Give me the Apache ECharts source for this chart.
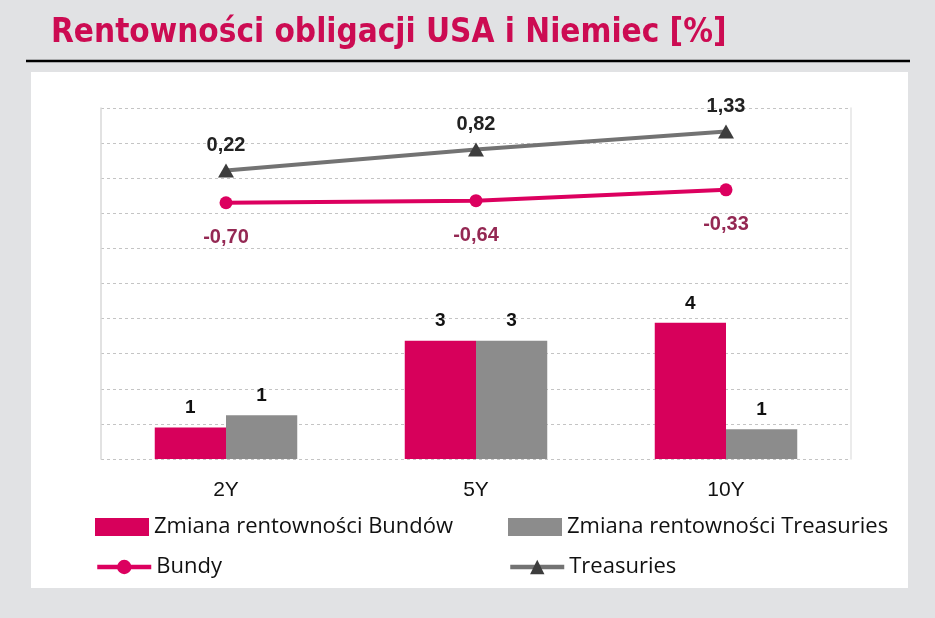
<!DOCTYPE html>
<html>
<head>
<meta charset="utf-8">
<script src="https://cdn.jsdelivr.net/npm/echarts@6/dist/echarts.min.js"></script>
<style>html,body{margin:0;padding:0;background:#e1e2e4}#c{width:935px;height:618px}</style>
</head>
<body>
<div id="c"></div>
<script>
const categories = ['2Y', '5Y', '10Y'];
const bundChange = [0.9, 3.37, 3.88];
const treasChange = [1.25, 3.37, 0.85];
const bundy = [-0.70, -0.64, -0.33];
const treasuries = [0.22, 0.82, 1.33];

const chart = echarts.init(document.getElementById('c'));
const fmt2 = p => p.value.toFixed(2).replace('.', ',');
const legendText = { fontFamily: 'Open Sans', fontSize: 22, color: '#111' };
chart.setOption({
  backgroundColor: '#e1e2e4',
  animation: false,
  title: {
    text: 'Rentowności obligacji USA i Niemiec [%]',
    left: 46, top: 12,
    textStyle: { fontFamily: 'Liberation Sans Narrow, DejaVu Sans Condensed, sans-serif', fontWeight: 'bold', fontSize: 33, color: '#cc0b52' }
  },
  graphic: [
    { type: 'rect', z: -100, silent: true, shape: { x: 31, y: 72, width: 877, height: 516 }, style: { fill: '#ffffff' } },
    { type: 'line', silent: true, shape: { x1: 26, y1: 61, x2: 910, y2: 61 }, style: { stroke: '#000', lineWidth: 2.5 } }
  ],
  grid: { left: 101, right: 84, top: 108, height: 351 },
  legend: [
    { data: ['Zmiana rentowności Bundów'], left: 90, top: 511, itemWidth: 54, itemHeight: 18, textStyle: legendText, icon: 'rect' },
    { data: ['Zmiana rentowności Treasuries'], left: 503, top: 511, itemWidth: 54, itemHeight: 18, textStyle: legendText, icon: 'rect' },
    { data: ['Bundy'], left: 90, top: 551, itemWidth: 54, itemHeight: 18, textStyle: legendText, lineStyle: { width: 4.5 } },
    { data: ['Treasuries'], left: 503, top: 551, itemWidth: 54, itemHeight: 18, textStyle: legendText, lineStyle: { width: 4.5 } }
  ],
  xAxis: {
    type: 'category', data: categories,
    axisLine: { show: false }, axisTick: { show: false },
    axisLabel: { fontFamily: 'Liberation Sans', fontSize: 21, color: '#111', margin: 21 }
  },
  yAxis: [
    { type: 'value', min: 0, max: 10, interval: 1, position: 'left',
      axisLabel: { show: false }, axisTick: { show: false },
      axisLine: { show: true, lineStyle: { color: '#d9d9d9', width: 1.5 } },
      splitLine: { lineStyle: { color: '#c4c4c4', type: [3, 3] } } },
    { type: 'value', min: -8, max: 2, interval: 1, position: 'right',
      axisLabel: { show: false }, axisTick: { show: false },
      axisLine: { show: true, lineStyle: { color: '#e4e4e4', width: 1.5 } },
      splitLine: { show: false } }
  ],
  series: [
    { name: 'Zmiana rentowności Bundów', type: 'bar', data: bundChange, yAxisIndex: 0,
      barGap: '0%', barCategoryGap: '43%',
      itemStyle: { color: '#d7005b' },
      label: { show: true, position: 'top', distance: 10, formatter: p => Math.round(p.value), fontFamily: 'Liberation Sans', fontWeight: 'bold', fontSize: 19, color: '#111' } },
    { name: 'Zmiana rentowności Treasuries', type: 'bar', data: treasChange, yAxisIndex: 0,
      itemStyle: { color: '#8c8c8c' },
      label: { show: true, position: 'top', distance: 10, formatter: p => Math.round(p.value), fontFamily: 'Liberation Sans', fontWeight: 'bold', fontSize: 19, color: '#111' } },
    { name: 'Bundy', type: 'line', data: bundy, yAxisIndex: 1,
      symbol: 'circle', symbolSize: 13,
      lineStyle: { color: '#dc005f', width: 4 }, itemStyle: { color: '#dc005f' },
      label: { show: true, position: 'bottom', distance: 18, formatter: fmt2, fontFamily: 'Liberation Sans', fontWeight: 'bold', fontSize: 20, color: '#942853' }, z: 5 },
    { name: 'Treasuries', type: 'line', data: treasuries, yAxisIndex: 1,
      symbol: 'triangle', symbolSize: [16, 14],
      lineStyle: { color: '#737373', width: 4 }, itemStyle: { color: '#3d3d3d' },
      label: { show: true, position: 'top', distance: 8, formatter: fmt2, fontFamily: 'Liberation Sans', fontWeight: 'bold', fontSize: 20, color: '#222' }, z: 5 }
  ]
});
</script>
</body>
</html>
